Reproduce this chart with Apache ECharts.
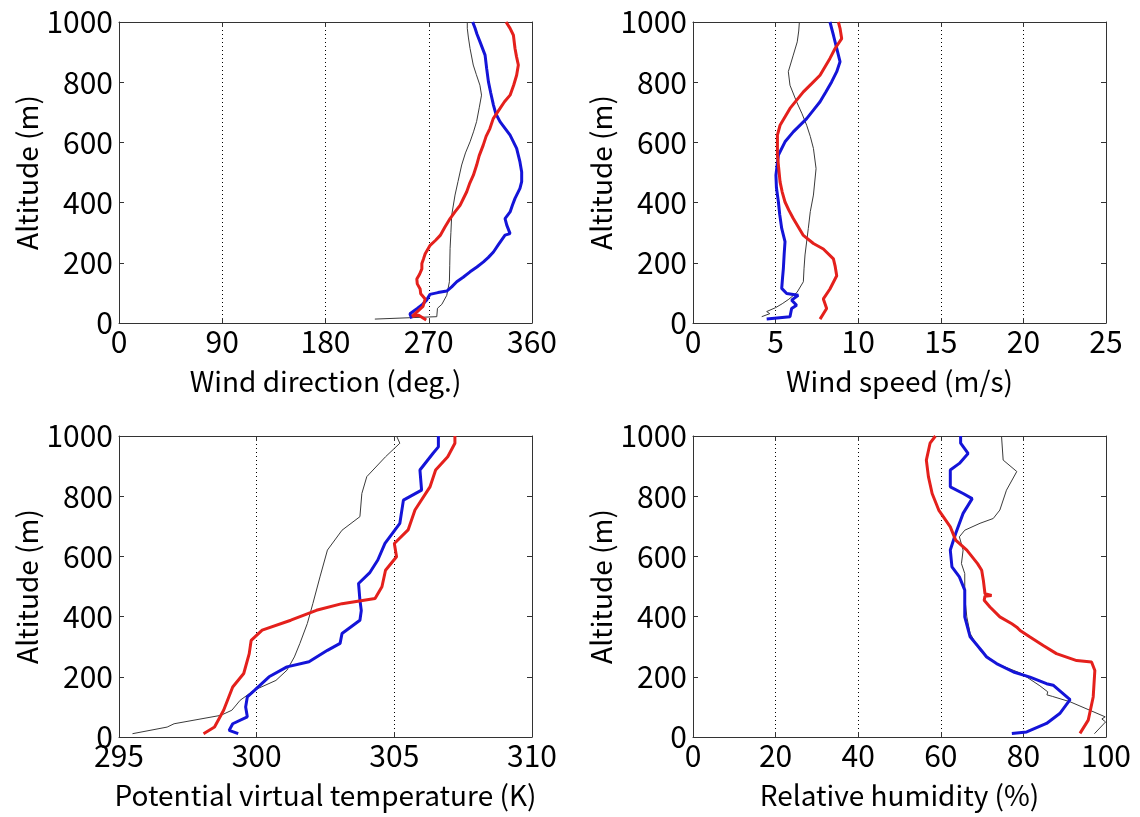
<!DOCTYPE html>
<html>
<head>
<meta charset="utf-8">
<title>Vertical profiles</title>
<script src="https://cdn.jsdelivr.net/npm/echarts@6/dist/echarts.min.js"></script>
<style>
  html, body { margin: 0; padding: 0; background: #fff; }
  #chart { width: 1140px; height: 817px; }
</style>
</head>
<body>
<div id="chart"></div>
<script>
// Profiles: [value, altitude (m)]
// Wind direction (deg.)
const dirBlack = [[223,13],[277,21],[277.6,49],[281.4,62],[285.7,92],[288,137],[288.3,190],[288.6,248],[289.3,300],[290,358],[292.9,425],[295.5,470],[298.7,525],[302,565],[306,602],[309,635],[311.7,669],[314,715],[316,757],[314.6,790],[311.5,825],[308.8,857],[306,912],[304.5,950],[303.6,979],[303.6,1000]];
const dirBlue = [[255.1,15],[253.6,31],[260,48],[264,60],[268.1,76],[271,95],[278,101],[285.7,106],[290,120],[294.4,137],[300,152],[306,170],[312,186],[317.7,203],[322,218],[326.4,236],[331,262],[336.5,292],[340.9,297],[338,325],[336.5,347],[340.9,369],[343,392],[345.2,414],[349.5,447],[351,470],[351,502],[349.5,535],[346.6,580],[340.9,624],[332.1,669],[328.5,695],[326.4,724],[324,765],[322,802],[320.5,845],[319.1,890],[314.7,934],[312,960],[310.4,979],[308.3,1000]];
const dirRed = [[267.8,10],[261.2,26],[255.5,22],[260,38],[265,55],[266.9,80],[263,97],[262.5,113],[260,130],[259.6,146],[262,162],[264,180],[264,198],[265.4,213],[266.9,230],[271.2,258],[276,275],[280,291],[284,318],[288.6,347],[293,370],[297.3,391],[300,412],[303.1,436],[305.5,462],[308.9,491],[311.7,524],[314,556],[317.5,591],[320,620],[323.3,646],[326.2,679],[332,712],[336,735],[340.9,757],[344,790],[346.6,823],[348.1,857],[346.5,885],[345.2,912],[343.8,956],[340.9,979],[337.4,1000]];

// Wind speed (m/s)
const spdBlack = [[4.16,21],[4.65,31],[4.46,38],[5.0,51],[5.4,64],[5.8,79],[6.3,102],[6.68,137],[6.72,180],[6.78,226],[6.98,314],[7.1,370],[7.29,425],[7.45,513],[7.29,580],[7.1,620],[6.88,657],[6.6,695],[6.27,735],[5.87,790],[5.77,835],[6.07,890],[6.31,934],[6.4,970],[6.44,1000]];
const spdBlue = [[4.46,13],[5.87,21],[5.97,48],[6.27,59],[5.97,76],[6.37,92],[5.67,98],[5.37,115],[5.42,150],[5.47,181],[5.52,230],[5.57,270],[5.37,314],[5.25,360],[5.17,402],[5.05,450],[5.02,491],[5.17,558],[5.57,602],[6.07,635],[6.88,679],[7.3,708],[7.69,735],[8.05,768],[8.39,801],[8.7,835],[8.9,868],[8.7,912],[8.5,956],[8.29,1000]];
const spdRed = [[7.69,13],[8.09,48],[7.89,80],[8.29,113],[8.7,157],[8.6,190],[8.5,213],[7.89,246],[7.29,264],[6.68,291],[6.07,347],[5.8,375],[5.57,402],[5.4,435],[5.27,469],[5.11,558],[5.11,624],[5.27,657],[5.87,713],[6.68,768],[7.2,796],[7.69,823],[8.29,879],[8.6,912],[9.0,945],[8.9,979],[8.8,1000]];

// Potential virtual temperature (K)
const tmpBlack = [[295.49,11],[296.75,33],[297.0,44],[298.7,72],[299.1,89],[299.4,122],[299.9,155],[300.7,188],[301.1,222],[301.37,266],[301.57,311],[301.84,377],[302.04,443],[302.3,532],[302.57,621],[303.1,687],[303.75,732],[303.82,809],[304.0,865],[304.68,931],[305.2,976],[305.08,1000]];
const tmpBlue = [[299.33,11],[299.0,22],[299.13,44],[299.66,67],[299.6,100],[299.66,133],[299.92,155],[300.45,200],[301.1,233],[301.9,250],[302.57,288],[303.03,311],[303.1,344],[303.75,388],[303.8,420],[303.75,455],[303.7,510],[304.1,545],[304.4,588],[304.66,643],[305.2,710],[305.33,787],[305.99,820],[305.93,887],[306.4,942],[306.6,964],[306.6,1000]];
const tmpRed = [[298.07,11],[298.47,33],[298.8,89],[299.13,166],[299.53,211],[299.73,277],[299.8,321],[300.2,355],[301.24,388],[302.17,421],[303.1,443],[304.3,460],[304.55,499],[304.68,554],[305.08,599],[305.0,643],[305.5,688],[305.75,754],[306.3,832],[306.5,887],[306.94,931],[307.2,976],[307.2,1000]];

// Relative humidity (%)
const rhBlack = [[97.2,11],[99.9,50],[99,60],[99.8,67],[91.3,117],[87,135],[85.7,140],[85.9,150],[84,170],[79.5,211],[73.5,244],[69.5,287],[67.1,344],[66.3,399],[65.8,465],[65.8,543],[65,576],[65.4,621],[64.5,665],[65.8,687],[69.5,710],[72.7,726],[74.3,754],[75.9,820],[78.4,882],[75.1,920],[74.7,1000]];
const rhBlue = [[77.2,12],[80.8,17],[85.6,45],[88.8,78],[91.3,124],[87.2,172],[85.6,177],[81.6,199],[77.6,216],[73.5,244],[71.1,266],[69.8,288],[67.1,333],[65.8,399],[65.8,488],[64.5,532],[62.7,565],[62.3,621],[63.6,676],[65.4,743],[67.6,792],[65.4,809],[62.3,831],[62.3,887],[64.5,909],[66.6,942],[64.8,976],[64.8,1000]];
const rhRed = [[93.7,12],[95.7,56],[96.9,133],[97.3,221],[96.5,249],[92.9,254],[88.0,277],[84.8,304],[81.6,332],[79.2,354],[78.4,365],[77.2,376],[74.3,399],[71.9,432],[70.5,454],[70.7,468],[72.3,470],[70.7,476],[70.3,521],[69.9,554],[68.9,576],[66.3,621],[63.6,654],[62.3,698],[59.5,754],[57.9,809],[57.0,865],[56.5,920],[57.4,976],[58.7,1000]];

// Axis settings for each panel
const panelTitles = ['Wind direction (deg.)', 'Wind speed (m/s)', 'Potential virtual temperature (K)', 'Relative humidity (%)'];
const panelMin = [0, 0, 295, 0];
const panelMax = [360, 25, 310, 100];
const panelStep = [90, 5, 5, 20];
const altMin = 0, altMax = 1000, altStep = 200;
const yTitle = 'Altitude (m)';

const panels = [
  [dirBlack, dirBlue, dirRed],
  [spdBlack, spdBlue, spdRed],
  [tmpBlack, tmpBlue, tmpRed],
  [rhBlack, rhBlue, rhRed]
];

const FONT = 'Noto Sans CJK JP';
const gridBoxes = [
  { left: 119, top: 22 },
  { left: 693, top: 22 },
  { left: 119, top: 436 },
  { left: 693, top: 436 }
];

const grid = [], xAxis = [], yAxis = [], series = [];
const boxLine = { show: true, onZero: false, lineStyle: { color: '#333', width: 1 } };
const innerTick = { show: true, inside: true, length: 5, lineStyle: { color: '#333' } };
const plain = v => String(v);

gridBoxes.forEach((g, i) => {
  grid.push({ left: g.left, top: g.top, width: 413, height: 301, containLabel: false });

  // bottom axis with labels and dotted grid
  xAxis.push({
    type: 'value', gridIndex: i, position: 'bottom',
    min: panelMin[i], max: panelMax[i], interval: panelStep[i],
    axisLine: boxLine, axisTick: innerTick,
    axisLabel: { color: '#000', fontSize: 30, fontFamily: FONT, margin: 4, formatter: plain },
    splitLine: { show: true, lineStyle: { color: '#000', width: 1, type: [1, 3] } },
    name: panelTitles[i], nameLocation: 'middle', nameGap: 44,
    nameTextStyle: { color: '#000', fontSize: 28, fontFamily: FONT }
  });
  // top edge of the box
  xAxis.push({
    type: 'value', gridIndex: i, position: 'top',
    min: panelMin[i], max: panelMax[i], interval: panelStep[i],
    axisLine: boxLine, axisTick: innerTick,
    axisLabel: { show: false }, splitLine: { show: false }
  });
  // left axis with labels
  yAxis.push({
    type: 'value', gridIndex: i, position: 'left',
    min: altMin, max: altMax, interval: altStep,
    axisLine: boxLine, axisTick: innerTick,
    axisLabel: { color: '#000', fontSize: 30, fontFamily: FONT, margin: 6, formatter: plain },
    splitLine: { show: false },
    name: yTitle, nameLocation: 'middle', nameGap: 78, nameRotate: 90,
    nameTextStyle: { color: '#000', fontSize: 28, fontFamily: FONT }
  });
  // right edge of the box
  yAxis.push({
    type: 'value', gridIndex: i, position: 'right',
    min: altMin, max: altMax, interval: altStep,
    axisLine: boxLine, axisTick: innerTick,
    axisLabel: { show: false }, splitLine: { show: false }
  });

  const styles = [
    { color: '#3a3a3a', width: 1 },
    { color: '#1414d8', width: 3 },
    { color: '#e4201c', width: 3 }
  ];
  panels[i].forEach((data, k) => {
    series.push({
      type: 'line', xAxisIndex: i * 2, yAxisIndex: i * 2,
      data: data, showSymbol: false, symbol: 'none', clip: true,
      lineStyle: styles[k], itemStyle: { color: styles[k].color },
      z: 3 + k, animation: false
    });
  });
});

const chart = echarts.init(document.getElementById('chart'), null, { renderer: 'canvas' });
chart.setOption({ backgroundColor: '#fff', animation: false, grid, xAxis, yAxis, series });
</script>
</body>
</html>
